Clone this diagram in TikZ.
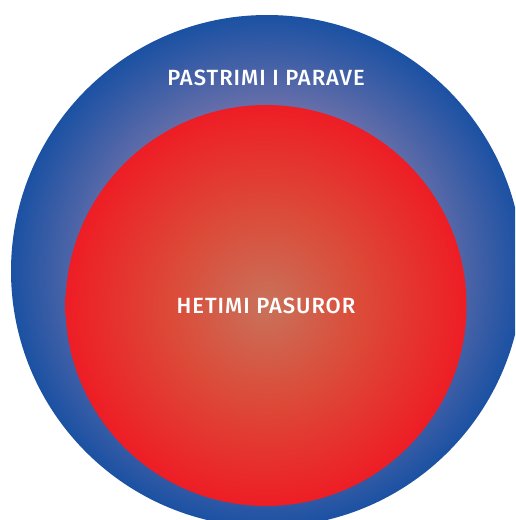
\documentclass[tikz,border=0pt]{standalone}
\usepackage{fontspec}
\newfontfamily\labelfont{Fira Sans}[UprightFont=* Medium, LetterSpace=4.5]
\definecolor{ringblue}{HTML}{1B51A3}
\definecolor{ringlav}{HTML}{7A76AB}
\definecolor{corered}{HTML}{EE1D25}
\definecolor{coremid}{HTML}{DC4A38}
\definecolor{corecore}{HTML}{C8725B}
% radial fills: 25bp is the rim of the shaded circle
\pgfdeclareradialshading{ringfill}{\pgfpoint{0bp}{0bp}}{%
  color(0bp)=(ringlav); color(14bp)=(ringlav); color(25bp)=(ringblue); color(50bp)=(ringblue)}
\pgfdeclareradialshading{corefill}{\pgfpoint{0bp}{0bp}}{%
  color(0bp)=(corecore); color(12bp)=(coremid); color(25bp)=(corered); color(50bp)=(corered)}
\tikzset{
  disclabel/.style={text=white, font=\labelfont\fontsize{22}{24}\selectfont, inner sep=0pt}
}
\begin{document}
\begin{tikzpicture}[x=1pt,y=-1pt]
  \useasboundingbox (0,0) rectangle (515,520);
  \clip (0,0) rectangle (515,520);
  % outer ring
  \shade[shading=ringfill] (267,271) circle[radius=256];
  % inner disc
  \shade[shading=corefill] (266,305.5) circle[radius=200.5];
  \node[disclabel] (outerlabel) at (266,78) {PASTRIMI I PARAVE};
  \node[disclabel] (innerlabel) at (266,306) {HETIMI PASUROR};
\end{tikzpicture}
\end{document}
